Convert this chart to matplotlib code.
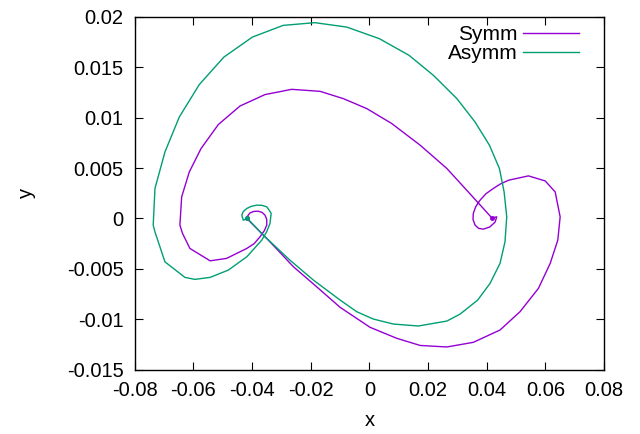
import numpy as np
import matplotlib
matplotlib.use("Agg")
import matplotlib.pyplot as plt
from matplotlib.ticker import FormatStrFormatter

plt.rcParams['font.family'] = ['Liberation Sans', 'DejaVu Sans']
plt.rcParams['axes.unicode_minus'] = False

# Symm trajectory
symm_x = [-0.0418, -0.0350, -0.0259, -0.0180, -0.0100, 0.0002, 0.0093, 0.0173,
          0.0264, 0.0354, 0.0445, 0.0513, 0.0576, 0.0616, 0.0642, 0.0650,
          0.0633, 0.0599, 0.0542, 0.0474, 0.0447, 0.0422, 0.0397, 0.0377, 0.0362,
          0.0354, 0.0353, 0.0360, 0.0372, 0.0388, 0.0410, 0.0428, 0.0434, 0.0417,
          0.0371, 0.0264, 0.0173, 0.0076,
          -0.0009, -0.0089, -0.0168, -0.0265, -0.0356, -0.0441, -0.0515, -0.0574,
          -0.0614, -0.0640, -0.0646, -0.0637, -0.0612, -0.0543, -0.0487, -0.0418,
          -0.0393, -0.0373, -0.0358, -0.0350, -0.0350, -0.0356, -0.0366, -0.0379,
          -0.0394, -0.0407, -0.0414, -0.0418]
symm_y = [0.0000, -0.00198, -0.00479, -0.00677, -0.00881, -0.01079, -0.01188, -0.01259,
          -0.01274, -0.01228, -0.01106, -0.00925, -0.00693, -0.00446, -0.00215, 0.00016,
          0.00263, 0.00372, 0.00422, 0.00379, 0.00343, 0.00297, 0.00245, 0.00181, 0.00115,
          0.00050, -0.00010, -0.00066, -0.00098, -0.00106, -0.00085, -0.00037, 0.00016, 0.00006,
          0.00154, 0.00495, 0.00726, 0.00941,
          0.01089, 0.01188, 0.01260, 0.01280, 0.01228, 0.01115, 0.00931, 0.00693,
          0.00461, 0.00214, -0.00066, -0.00149, -0.00297, -0.00420, -0.00396, -0.00297,
          -0.00250, -0.00182, -0.00120, -0.00066, -0.00010, 0.00033, 0.00060, 0.00072,
          0.00070, 0.00055, 0.00030, 0.0000]

# Asymm trajectory
asymm_x = [-0.0416, -0.0362, -0.0271, -0.0191, -0.0100, -0.0043, 0.0013, 0.0082,
           0.0167, 0.0264, 0.0309, 0.0369, 0.0411, 0.0445, 0.0462, 0.0468,
           0.0459, 0.0443, 0.0409, 0.0360, 0.0298, 0.0218, 0.0135, 0.0034,
           -0.0077, -0.0186, -0.0294, -0.0399, -0.0496, -0.0580, -0.0648, -0.0697,
           -0.0731, -0.0737, -0.0731, -0.0697, -0.0629, -0.0595, -0.0543, -0.0481,
           -0.0418, -0.0367, -0.0350, -0.0339, -0.0335, -0.0343, -0.0350, -0.0366,
           -0.0384, -0.0403, -0.0418, -0.0430, -0.0435, -0.0430, -0.0416]
asymm_y = [0.0000, -0.00165, -0.00413, -0.00611, -0.00809, -0.00925, -0.00997, -0.01047,
           -0.01066, -0.01017, -0.00948, -0.00809, -0.00644, -0.00446, -0.00232, 0.00016,
           0.00263, 0.00495, 0.00726, 0.00956, 0.01188, 0.01419, 0.01617, 0.01782,
           0.01897, 0.01941, 0.01914, 0.01798, 0.01600, 0.01327, 0.01006, 0.00659,
           0.00297, -0.00066, -0.00133, -0.00430, -0.00584, -0.00604, -0.00584, -0.00512,
           -0.00380, -0.00215, -0.00130, -0.00050, 0.00050, 0.00088, 0.00115, 0.00130,
           0.00132, 0.00120, 0.00099, 0.00068, 0.00033, -0.00017, 0.0000]

xticks = [-0.08, -0.06, -0.04, -0.02, 0, 0.02, 0.04, 0.06, 0.08]
yticks = [-0.015, -0.01, -0.005, 0, 0.005, 0.01, 0.015, 0.02]

fig = plt.figure(figsize=(6.4, 4.34), dpi=100)
ax = fig.add_axes([0.2105, 0.148, 0.7335, 0.8135])

ax.plot(symm_x, symm_y, color='#9400D3', lw=1, label='Symm')
ax.plot(asymm_x, asymm_y, color='#009E73', lw=1, label='Asymm')
ax.plot([symm_x[0], symm_x[33]], [symm_y[0], symm_y[33]], 'o', color='#9400D3', ms=2.5)
ax.plot([asymm_x[0]], [asymm_y[0]], 'o', color='#009E73', ms=2.5)

ax.set_xlim(-0.08, 0.08)
ax.set_ylim(-0.015, 0.02)
ax.set_xticks(xticks)
ax.set_yticks(yticks)
ax.xaxis.set_major_formatter(FormatStrFormatter('%g'))
ax.yaxis.set_major_formatter(FormatStrFormatter('%g'))
ax.tick_params(direction='in', top=True, right=True, length=6, width=0.8,
               labelsize=14.5, pad=8)
for s in ax.spines.values():
    s.set_linewidth(1)

ax.set_xlabel('x', fontsize=14.5, labelpad=8)
ax.set_ylabel('y', fontsize=14.5, labelpad=22)

ax.legend(loc='upper right', bbox_to_anchor=(0.973, 1.012), frameon=False,
          markerfirst=False, fontsize=15, handlelength=2.7, handletextpad=0.25,
          labelspacing=0.02, borderaxespad=0.2, alignment='right')

fig.savefig('out.png', dpi=100)
